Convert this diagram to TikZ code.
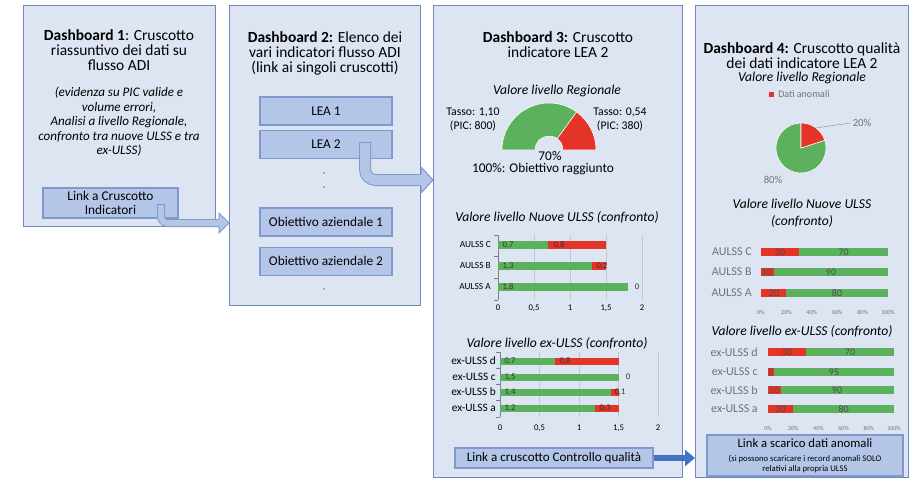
\documentclass[tikz,border=0pt]{standalone}
\usepackage{fontspec}
\setmainfont{Carlito}
\usetikzlibrary{positioning, arrows.meta, calc}

\definecolor{panelfill}{RGB}{221,228,242}
\definecolor{panelline}{RGB}{110,135,190}
\definecolor{boxfill}{RGB}{180,198,231}
\definecolor{boxline}{RGB}{128,152,205}
\definecolor{bargreen}{RGB}{92,178,92}
\definecolor{barred}{RGB}{228,52,40}
\definecolor{arrowblue}{RGB}{68,114,196}
\definecolor{labelgray}{RGB}{115,115,115}
\definecolor{gridgray}{RGB}{195,198,205}

\begin{document}
\begin{tikzpicture}[x=0.75pt, y=-0.75pt,
			panel/.style = {draw=panelline, fill=panelfill, line width=0.9pt, anchor=north west, inner sep=0pt},
			title/.style = {align=center, font=\fontsize{11.6}{11.25}\selectfont},
			note/.style = {align=center, font=\fontsize{9.8}{10.9}\selectfont\itshape},
			subhead/.style = {align=center, font=\fontsize{10.2}{12.75}\selectfont\itshape},
			linkbox/.style = {draw=boxline, fill=boxfill, line width=0.8pt, align=center, inner sep=0pt,
				font=\fontsize{10}{11}\selectfont},
			itembox/.style = {linkbox, minimum width=99pt, minimum height=21pt},
			shaft/.style = {draw=boxline, double=boxfill, line width=0.75pt, line cap=rect},
			headline/.style = {draw=boxline, line width=0.75pt, line join=miter},
			bluearrow/.style = {arrowblue, line width=4.5pt, -{Triangle[length=7.5pt, width=12pt]}},
			gaugelabel/.style = {align=center, font=\fontsize{8.8}{10.5}\selectfont, inner sep=0pt},
			val/.style = {font=\fontsize{6.5}{7}\selectfont, text=black!80, inner sep=0pt},
			cat/.style = {font=\fontsize{7}{7}\selectfont, anchor=east, inner sep=0pt},
			xlab/.style = {font=\fontsize{6.5}{7}\selectfont, inner sep=0pt},
			pctval/.style = {font=\fontsize{7.5}{8}\selectfont, text=black!70, inner sep=0pt},
			pctcat/.style = {font=\fontsize{9}{9}\selectfont, text=labelgray, anchor=east, inner sep=0pt},
			pctlab/.style = {font=\fontsize{4.5}{5}\selectfont, text=labelgray, inner sep=0pt},
			pielabel/.style = {font=\fontsize{8}{9}\selectfont, text=labelgray, inner sep=0pt},
			gbar/.style = {fill=bargreen},
			rbar/.style = {fill=barred},
			gridline/.style = {draw=gridgray, line width=0.5pt}
			]
			\useasboundingbox (0,0) rectangle (921,478);
			% Panels
			\node (p1) [panel, minimum width=144pt, minimum height=165.75pt] at (23,5) {};
			\node (p2) [panel, minimum width=143.25pt, minimum height=225pt] at (229,5) {};
			\node (p3) [panel, minimum width=186.75pt, minimum height=354pt] at (433,5) {};
			\node (p4) [panel, minimum width=159.75pt, minimum height=354pt] at (695,5) {};
			
			% Dashboard 1
			\node (t1) [title] at (119,50) {\textbf{Dashboard 1}: Cruscotto\\riassuntivo dei dati su\\flusso ADI};
			\node (n1) [note] at (119,122) {(evidenza su PIC valide e\\volume errori,\\Analisi a livello Regionale,\\confronto tra nuove ULSS e tra\\ex-ULSS)};
			\node (l1) [linkbox, minimum width=101.25pt, minimum height=22.5pt] at (110.5,203) {Link a Cruscotto\\Indicatori};
			\coordinate (a1) at (161,208);
			\coordinate (a1c) at (161,223);
			\draw[shaft, double distance=4.5pt, rounded corners=5pt] (a1) |- ($(p2.west |- a1c)+(-10,0)$);
			\fill[boxfill] ($(p2.west |- a1c)+(-10,-10)$) -- (p2.west |- a1c) -- ($(p2.west |- a1c)+(-10,10)$) -- cycle;
			\draw[headline] ($(p2.west |- a1c)+(-10,-4)$) -- ++(0,-6) -- (p2.west |- a1c) -- ($(p2.west |- a1c)+(-10,10)$) -- ++(0,-6);
			
			% Dashboard 2
			\node (t2) [title] at (325,53) {\textbf{Dashboard 2:} Elenco dei\\vari indicatori flusso ADI\\(link ai singoli cruscotti)};
			\node (lea1) [itembox] at (326,111) {LEA 1};
			\node (lea2) [itembox, below=3pt of lea1] {LEA 2};
			\node (ob1) [itembox] at (326,222) {Obiettivo aziendale 1};
			\node (ob2) [itembox, below=7.5pt of ob1] {Obiettivo aziendale 2};
			\fill (324,173) circle (0.55pt) (324,187) circle (0.55pt) (324,289) circle (0.55pt);
			\coordinate (a2) at (365,148);
			\coordinate (a2c) at (365,180);
			\draw[shaft, double distance=7.5pt, rounded corners=8pt] (a2) |- ($(p3.west |- a2c)+(-12,0)$);
			\fill[boxfill] ($(p3.west |- a2c)+(-12,-13)$) -- (p3.west |- a2c) -- ($(p3.west |- a2c)+(-12,13)$) -- cycle;
			\draw[headline] ($(p3.west |- a2c)+(-12,-6)$) -- ++(0,-7) -- (p3.west |- a2c) -- ($(p3.west |- a2c)+(-12,13)$) -- ++(0,-7);
			
			% Dashboard 3
			\node (t3) [title] at (558,45) {\textbf{Dashboard 3:} Cruscotto\\indicatore LEA 2};
			\node (r3) [subhead] at (557,91) {Valore livello Regionale};
			\begin{scope}[shift={(549,150)}, yscale=-1]
				\filldraw[fill=bargreen, draw=white, line width=0.4pt] (180:47) arc[start angle=180, end angle=54, radius=47] -- (54:14) arc[start angle=54, end angle=180, radius=14] -- cycle;
				\filldraw[fill=barred, draw=white, line width=0.4pt] (54:47) arc[start angle=54, end angle=0, radius=47] -- (0:14) arc[start angle=0, end angle=54, radius=14] -- cycle;
			\end{scope}
			\node (tl) [gaugelabel] at (473,120) {Tasso: 1,10\\(PIC: 800)};
			\node (tr) [gaugelabel] at (620,120) {Tasso: 0,54\\(PIC: 380)};
			\node (g70) [font=\fontsize{10}{10}\selectfont, inner sep=0pt] at (550,156) {70\%};
			\node (g100) [font=\fontsize{10}{10}\selectfont, inner sep=0pt] at (543,169) {100\%: Obiettivo raggiunto};
			
			% Nuove ULSS (confronto)
			\node (h3a) [subhead] at (557,217) {Valore livello Nuove ULSS (confronto)};
			\draw[gridline] (534,235) -- (534,300) (570,235) -- (570,300) (606,235) -- (606,300) (642,235) -- (642,300);
			\draw[gridline, draw=gray] (498,235) -- (498,300) (494,235) -- (498,235) (494,256) -- (498,256) (494,278) -- (498,278) (494,300) -- (498,300);
			\fill[gbar] (498,241) rectangle (548.4,249);
			\fill[rbar] (548.4,241) rectangle (606,249);
			\fill[gbar] (498,262) rectangle (591.6,270);
			\fill[rbar] (591.6,262) rectangle (606,270);
			\fill[gbar] (498,283) rectangle (627.6,291);
			\node (c1v1) [val] at (508,245) {0,7};
			\node (c1v2) [val] at (559,245) {0,8};
			\node (c1v3) [val] at (508,266) {1,3};
			\node (c1v4) [val] at (602,266) {0,2};
			\node (c1v5) [val] at (508,287) {1,8};
			\node (c1v6) [val] at (637,287) {0};
			\node (c1c) [cat] at (491,245) {AULSS C};
			\node (c1b) [cat] at (491,266) {AULSS B};
			\node (c1a) [cat] at (491,287) {AULSS A};
			\node (c1x0) [xlab] at (498,308) {0};
			\node (c1x1) [xlab] at (534,308) {0,5};
			\node (c1x2) [xlab] at (570,308) {1};
			\node (c1x3) [xlab] at (606,308) {1,5};
			\node (c1x4) [xlab] at (642,308) {2};
			
			% ex-ULSS (confronto)
			\node (h3b) [subhead] at (557,343) {Valore livello ex-ULSS (confronto)};
			\draw[gridline] (539.5,352) -- (539.5,417) (579,352) -- (579,417) (618.5,352) -- (618.5,417) (658,352) -- (658,417);
			\draw[gridline, draw=gray] (500,352) -- (500,417) (496,352) -- (500,352) (496,368.5) -- (500,368.5) (496,384.5) -- (500,384.5) (496,400.5) -- (500,400.5) (496,417) -- (500,417);
			\fill[gbar] (500,357.5) rectangle (555.3,364.5);
			\fill[rbar] (555.3,357.5) rectangle (618.5,364.5);
			\fill[gbar] (500,373.5) rectangle (618.5,380.5);
			\fill[gbar] (500,388.5) rectangle (610.6,395.5);
			\fill[rbar] (610.6,388.5) rectangle (618.5,395.5);
			\fill[gbar] (500,404.5) rectangle (594.8,411.5);
			\fill[rbar] (594.8,404.5) rectangle (618.5,411.5);
			\node (c2v1) [val] at (510,361) {0,7};
			\node (c2v2) [val] at (565,361) {0,8};
			\node (c2v3) [val] at (510,377) {1,5};
			\node (c2v4) [val] at (628,377) {0};
			\node (c2v5) [val] at (510,392) {1,4};
			\node (c2v6) [val] at (620,392) {0,1};
			\node (c2v7) [val] at (510,408) {1,2};
			\node (c2v8) [val] at (605,408) {0,3};
			\node (c2d) [cat, font=\fontsize{8.5}{9}\selectfont] at (496,361) {ex-ULSS d};
			\node (c2c) [cat, font=\fontsize{8.5}{9}\selectfont] at (496,377) {ex-ULSS c};
			\node (c2b) [cat, font=\fontsize{8.5}{9}\selectfont] at (496,392) {ex-ULSS b};
			\node (c2a) [cat, font=\fontsize{8.5}{9}\selectfont] at (496,408) {ex-ULSS a};
			\node (c2x0) [xlab] at (500,428) {0};
			\node (c2x1) [xlab] at (539.5,428) {0,5};
			\node (c2x2) [xlab] at (579,428) {1};
			\node (c2x3) [xlab] at (618.5,428) {1,5};
			\node (c2x4) [xlab] at (658,428) {2};
			\node (lq) [linkbox, minimum width=148.5pt, minimum height=15pt, font=\fontsize{9.8}{11}\selectfont] at (554,458) {Link a cruscotto Controllo qualità};
			\draw[bluearrow] (lq.east) -- (p4.west |- lq.east);
			
			% Dashboard 4
			\node (t4) [title] at (802,56) {\textbf{Dashboard 4:} Cruscotto qualità\\dei dati indicatore LEA 2};
			\node (r4) [subhead] at (802,78) {Valore livello Regionale};
			\fill[barred] (769,92) rectangle (774,97);
			\node (lg) [pielabel, anchor=west, font=\fontsize{7.5}{8}\selectfont] at (778,94.5) {Dati anomali};
			\begin{scope}[shift={(801,148)}, yscale=-1]
				\filldraw[fill=bargreen, draw=white, line width=0.4pt] (0,0) -- (18:25) arc[start angle=18, end angle=-270, radius=25] -- cycle;
				\filldraw[fill=barred, draw=white, line width=0.4pt] (0,0) -- (90:25) arc[start angle=90, end angle=18, radius=25] -- cycle;
			\end{scope}
			\node (pc20) [pielabel] at (862,123) {20\%};
			\node (pc80) [pielabel] at (773,180) {80\%};
			\coordinate (pr) at (815.5,128);
			\draw[labelgray!70, line width=0.4pt] (pr) -- ($(pc20.west)+(-2,0)$);
			
			% Nuove ULSS (%)
			\node (h4a) [subhead] at (802,213) {Valore livello Nuove ULSS\\(confronto)};
			\fill[rbar] (761,248) rectangle (799.1,256);
			\fill[gbar] (799.1,248) rectangle (888,256);
			\fill[rbar] (761,268) rectangle (773.7,276);
			\fill[gbar] (773.7,268) rectangle (888,276);
			\fill[rbar] (761,289) rectangle (786.4,297);
			\fill[gbar] (786.4,289) rectangle (888,297);
			\node (c3v1) [pctval] at (780,252) {30};
			\node (c3v2) [pctval] at (843.5,252) {70};
			\node (c3v3) [pctval] at (767,272) {10};
			\node (c3v4) [pctval] at (831,272) {90};
			\node (c3v5) [pctval] at (774,293) {20};
			\node (c3v6) [pctval] at (837,293) {80};
			\node (c3c) [pctcat] at (752,252) {AULSS C};
			\node (c3b) [pctcat] at (752,272) {AULSS B};
			\node (c3a) [pctcat] at (752,293) {AULSS A};
			\node (c3x0) [pctlab] at (761,312) {0\%};
			\node (c3x1) [pctlab] at (786.4,312) {20\%};
			\node (c3x2) [pctlab] at (811.8,312) {40\%};
			\node (c3x3) [pctlab] at (837.2,312) {60\%};
			\node (c3x4) [pctlab] at (862.6,312) {80\%};
			\node (c3x5) [pctlab] at (888,312) {100\%};
			
			% ex-ULSS (%)
			\node (h4b) [subhead] at (802,331) {Valore livello ex-ULSS (confronto)};
			\fill[rbar] (768,348) rectangle (805.8,356);
			\fill[gbar] (805.8,348) rectangle (894,356);
			\fill[rbar] (768,368) rectangle (774.3,376);
			\fill[gbar] (774.3,368) rectangle (894,376);
			\fill[rbar] (768,386) rectangle (780.6,394);
			\fill[gbar] (780.6,386) rectangle (894,394);
			\fill[rbar] (768,405) rectangle (793.2,413);
			\fill[gbar] (793.2,405) rectangle (894,413);
			\node (c4v1) [pctval] at (787,352) {30};
			\node (c4v2) [pctval] at (850,352) {70};
			\node (c4v3) [pctval] at (771,372) {5};
			\node (c4v4) [pctval] at (834,372) {95};
			\node (c4v5) [pctval] at (774,390) {10};
			\node (c4v6) [pctval] at (837,390) {90};
			\node (c4v7) [pctval] at (780.6,409) {20};
			\node (c4v8) [pctval] at (843.6,409) {80};
			\node (c4d) [pctcat] at (758,352) {ex-ULSS d};
			\node (c4c) [pctcat] at (758,372) {ex-ULSS c};
			\node (c4b) [pctcat] at (758,390) {ex-ULSS b};
			\node (c4a) [pctcat] at (758,409) {ex-ULSS a};
			\node (c4x0) [pctlab] at (768,428) {0\%};
			\node (c4x1) [pctlab] at (793.2,428) {20\%};
			\node (c4x2) [pctlab] at (818.4,428) {40\%};
			\node (c4x3) [pctlab] at (843.6,428) {60\%};
			\node (c4x4) [pctlab] at (868.8,428) {80\%};
			\node (c4x5) [pctlab] at (894,428) {100\%};
			\node (l4) [linkbox, minimum width=147pt, minimum height=30.75pt, font=\fontsize{6.5}{7.5}\selectfont] at (805,455.5) {{\fontsize{9.5}{10}\selectfont Link a scarico dati anomali}\\[3pt](si possono scaricare i record anomali SOLO\\relativi alla propria ULSS};
		\end{tikzpicture}
\end{document}
